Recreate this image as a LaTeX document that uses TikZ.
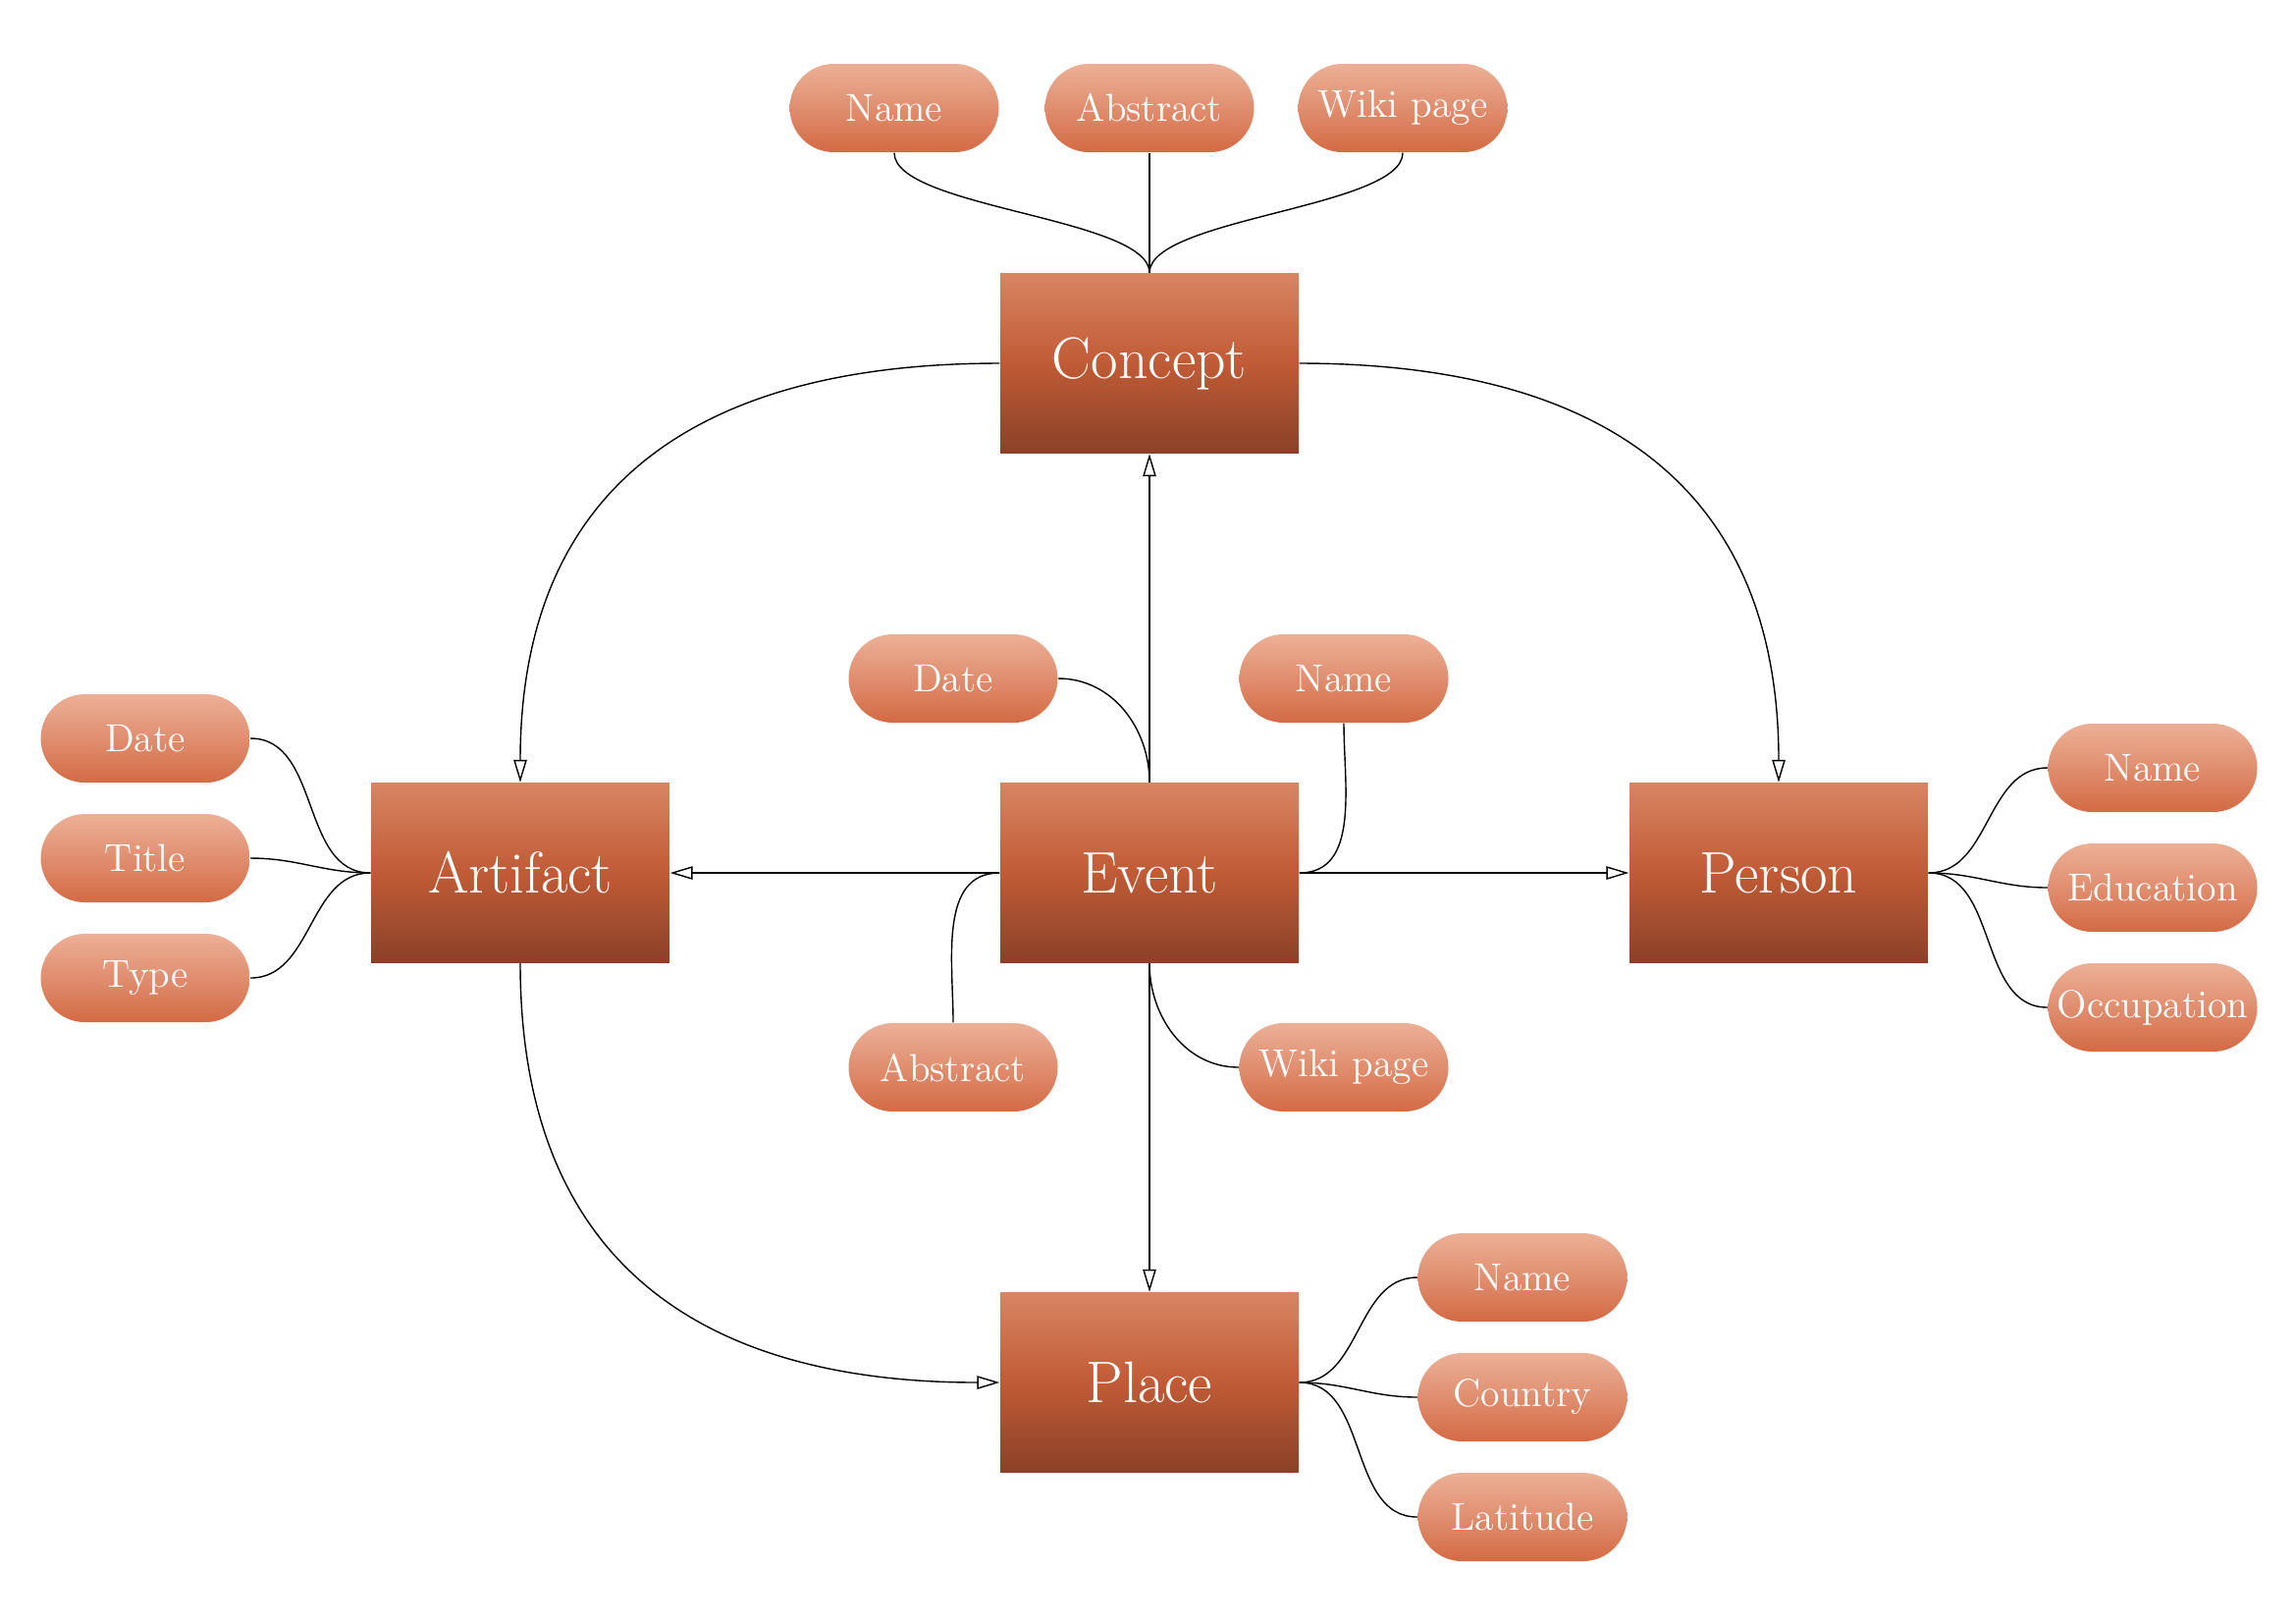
\documentclass[tikz,border=0pt]{standalone}
\usepackage{tikz}
\usetikzlibrary{arrows.meta,positioning}
\definecolor{enttop}{HTML}{D98462}
\definecolor{entmid}{HTML}{C05B36}
\definecolor{entbot}{HTML}{8A4128}
\definecolor{atttop}{HTML}{ECB097}
\definecolor{attmid}{HTML}{E08E6F}
\definecolor{attbot}{HTML}{D36A44}

\begin{document}
\begin{tikzpicture}[
  entity/.style={rectangle, minimum width=3.04cm, minimum height=1.83cm,
                 top color=enttop, bottom color=entbot, middle color=entmid,
                 text=white, font=\fontsize{17}{20}\selectfont},
  attr/.style={rectangle, rounded corners=0.45cm, minimum width=2.13cm,
               minimum height=0.9cm, inner sep=1pt,
               top color=atttop, bottom color=attbot, middle color=attmid,
               text=white, font=\fontsize{11.3}{13}\selectfont},
  rel/.style={-{Triangle[open, length=6.5pt, width=3.8pt]}},
]
\useasboundingbox (0,0) rectangle (23.39,-16.53);

% entities
\node[entity](concept)  at (11.71,-3.70) {Concept};
\node[entity](event)    at (11.71,-8.89) {Event};
\node[entity](artifact) at (5.30,-8.89)  {Artifact};
\node[entity](person)   at (18.12,-8.89) {Person};
\node[entity](place)    at (11.71,-14.08) {Place};

% attributes
\node[attr](cname) at (9.11,-1.10)  {Name};
\node[attr](cabs)  at (11.71,-1.10) {Abstract};
\node[attr](cwiki) at (14.29,-1.10) {Wiki page};

\node[attr](edate) at (9.71,-6.91)   {Date};
\node[attr](ename) at (13.69,-6.91)  {Name};
\node[attr](eabs)  at (9.71,-10.87)  {Abstract};
\node[attr](ewiki) at (13.69,-10.87) {Wiki page};

\node[attr](adate)  at (1.48,-7.52) {Date};
\node[attr](atitle) at (1.48,-8.74) {Title};
\node[attr](atype)  at (1.48,-9.96) {Type};

\node[attr](pname) at (21.93,-7.82)  {Name};
\node[attr](pedu)  at (21.93,-9.04)  {Education};
\node[attr](pocc)  at (21.93,-10.26) {Occupation};

\node[attr](lname)    at (15.51,-13.01) {Name};
\node[attr](lcountry) at (15.51,-14.23) {Country};
\node[attr](llat)     at (15.51,-15.45) {Latitude};

% relations
\draw[rel](event)--(concept);
\draw[rel](event)--(artifact);
\draw[rel](event)--(person);
\draw[rel](event)--(place);
\draw[rel](concept.west) to[out=180,in=90,looseness=1.2] (artifact.north);
\draw[rel](concept.east) to[out=0,in=90,looseness=1.2] (person.north);
\draw[rel](artifact.south) to[out=-90,in=180,looseness=1.2] (place.west);

% attribute links
\draw(cname.south) to[out=-90,in=90,looseness=0.5] (concept.north);
\draw(cabs)--(concept);
\draw(cwiki.south) to[out=-90,in=90,looseness=0.5] (concept.north);

\draw(edate.east) to[out=0,in=90] (event.north);
\draw(ename.south) to[out=-90,in=0] (event.east);
\draw(eabs.north) to[out=90,in=180] (event.west);
\draw(ewiki.west) to[out=180,in=-90] (event.south);

\foreach \a in {adate,atitle,atype}
  \draw(\a.east) to[out=0,in=180] (artifact.west);
\foreach \a in {pname,pedu,pocc}
  \draw(\a.west) to[out=180,in=0] (person.east);
\foreach \a in {lname,lcountry,llat}
  \draw(\a.west) to[out=180,in=0] (place.east);
\end{tikzpicture}
\end{document}
